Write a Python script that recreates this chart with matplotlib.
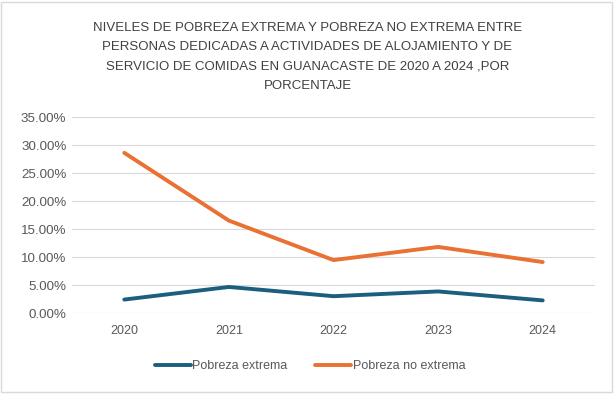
import matplotlib.pyplot as plt
from matplotlib.patches import Rectangle
from matplotlib.ticker import FuncFormatter
import numpy as np

# Data
years = ['2020', '2021', '2022', '2023', '2024']
pobreza_extrema = [0.024, 0.0465, 0.030, 0.0385, 0.0225]
pobreza_no_extrema = [0.286, 0.165, 0.0945, 0.118, 0.091]
series_names = ['Pobreza extrema', 'Pobreza no extrema']
title = ('NIVELES DE POBREZA EXTREMA Y POBREZA NO EXTREMA ENTRE\n'
         'PERSONAS DEDICADAS A ACTIVIDADES DE ALOJAMIENTO Y DE\n'
         'SERVICIO DE COMIDAS EN GUANACASTE DE 2020 A 2024 ,POR\n'
         'PORCENTAJE')

plt.rcParams['font.family'] = ['Liberation Sans', 'DejaVu Sans']

fig = plt.figure(figsize=(6.15, 3.94), dpi=100)
ax = fig.add_axes([72 / 615, 1 - 313 / 394, (595 - 72) / 615, (313 - 117) / 394])

x = np.arange(len(years))
line1, = ax.plot(x, pobreza_extrema, color='#1B5E7E', linewidth=2.8, solid_capstyle='round')
line2, = ax.plot(x, pobreza_no_extrema, color='#E97132', linewidth=2.8, solid_capstyle='round')

ax.set_xlim(-0.5, len(years) - 0.5)
ax.set_ylim(0, 0.35)
ax.set_yticks(np.arange(0, 0.351, 0.05))
ax.yaxis.set_major_formatter(FuncFormatter(lambda v, p: f'{v * 100:.2f}%'))
ax.set_xticks(x)
ax.set_xticklabels(years)
ax.tick_params(axis='both', length=0, labelsize=9, labelcolor='#595959')
ax.tick_params(axis='y', pad=4, labelsize=9.6)
ax.tick_params(axis='x', pad=9)
ax.grid(axis='y', color='#D9D9D9', linewidth=0.8)
ax.set_axisbelow(True)
for s in ax.spines.values():
    s.set_visible(False)

fig.text(0.5, 1 - 57 / 394, title, ha='center', va='center', fontsize=9.5,
         color='#404040', linespacing=1.78)

fig.legend([line1, line2], series_names, loc='center', bbox_to_anchor=(310 / 615, 1 - 366 / 394),
           ncol=2, frameon=False, fontsize=9, labelcolor='#595959', handlelength=2.9,
           handletextpad=0.1, columnspacing=2.2)

fig.patches.append(Rectangle((0.002, 0.005), 0.993, 0.99, transform=fig.transFigure,
                             fill=False, edgecolor='#D9D9D9', linewidth=1))

plt.savefig('out.png', dpi=100)
